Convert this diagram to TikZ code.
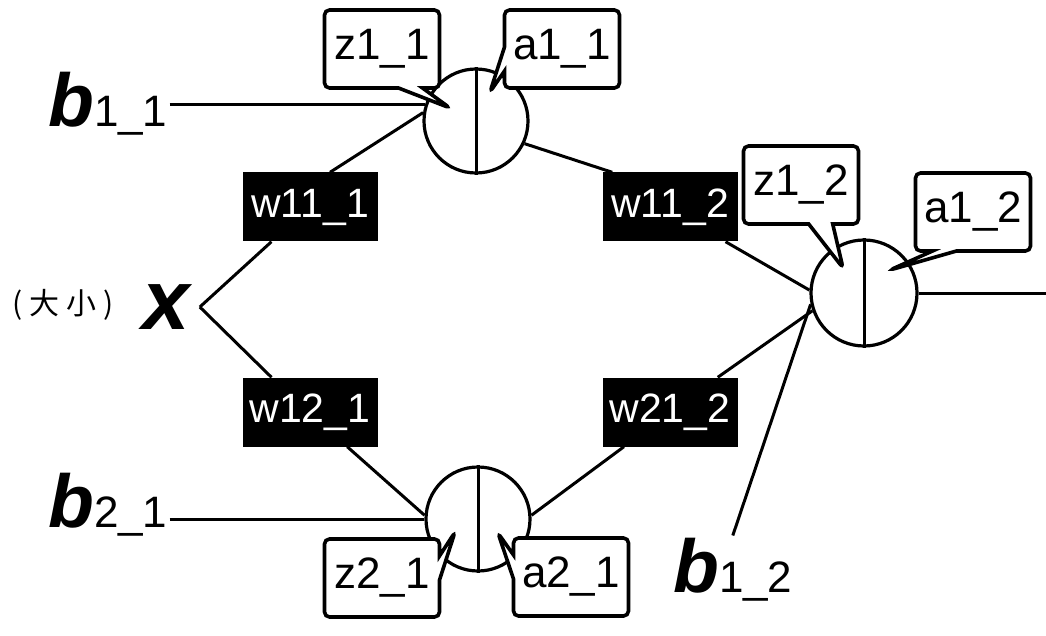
\documentclass[tikz,border=0pt]{standalone}
\usepackage{fontspec}
\setmainfont{Liberation Sans}
\newfontfamily\cjkfont{Noto Sans CJK SC}
\usetikzlibrary{shapes.callouts,calc}
\begin{document}
\begin{tikzpicture}[x=1pt,y=-1pt,
  neuron/.style={circle,draw,line width=3.2pt,minimum size=104pt,inner sep=0pt},
  wbox/.style={fill=black,text=white,minimum width=135pt,minimum height=69pt,inner sep=0pt,
    font=\fontsize{41}{44}\selectfont},
  tag/.style={rectangle callout,draw,fill=white,line width=3.6pt,rounded corners=5pt,
    minimum width=115pt,minimum height=78pt,inner sep=0pt,callout pointer width=24pt,
    font=\fontsize{44}{48}\selectfont},
  wire/.style={line width=3pt},
  bias/.style={inner sep=2pt,anchor=base west}
]
\useasboundingbox (0,0) rectangle (1046,636);

% neurons
\node[neuron] (n11) at (476,121) {};
\node[neuron] (n21) at (478,519) {};
\node[neuron,minimum size=106pt] (n12) at (864,293) {};
\foreach \n in {n11,n21,n12}
  \draw[line width=3pt] (\n.north) -- (\n.south);

% weights
\node[wbox] (w111) at (310,207) {w11\_1};
\node[wbox] (w121) at (310,412) {w12\_1};
\node[wbox] (w112) at (670,207) {w11\_2};
\node[wbox] (w212) at (670,412) {w21\_2};

% input
\node[inner sep=0pt,inner xsep=10pt,font=\fontsize{85}{90}\selectfont\bfseries\itshape] (xx) at (166,307) {x};
\node[font=\cjkfont\fontsize{30}{34}\selectfont] (size) at (63,305) {( 大 小 )};

% biases
\node[bias] (b11) at (46,127) {{\fontsize{75}{80}\selectfont\bfseries\itshape b}{\fontsize{44}{48}\selectfont 1\_1}};
\node[bias] (b21) at (46,527) {{\fontsize{75}{80}\selectfont\bfseries\itshape b}{\fontsize{44}{48}\selectfont 2\_1}};
\node[bias] (b12) at (671,592) {{\fontsize{75}{80}\selectfont\bfseries\itshape b}{\fontsize{44}{48}\selectfont 1\_2}};

\coordinate (out) at (1046,293);

% connections
\draw[wire] (b11.east |- n11.162) -- (n11.162);
\draw[wire] (b21.east |- n21.west) -- (n21.west);
\draw[wire] (b12.north) -- (n12.192);
\draw[wire] (xx.east) -- (w111.222);
\draw[wire] (w111.60) -- (n11.171);
\draw[wire] (xx.east) -- (w121.138);
\draw[wire] (w121.-43) -- (n21.176);
\draw[wire] (n11.-25) -- (w112.149);
\draw[wire] (w112.-32) -- (n12.177);
\draw[wire] (w212.36) -- (n12.199);
\draw[wire] (w212.217) -- (n21.4);
\draw[wire] (n12.east) -- (out);

% pointer tips of the value tags
\coordinate (tz11) at (450,108);
\coordinate (ta11) at (490,92);
\coordinate (tz12) at (843,268);
\coordinate (ta12) at (890,270);
\coordinate (tz21) at (455,532);
\coordinate (ta21) at (498,533);

% value tags
\node[tag,callout absolute pointer={(tz11)}] (z11) at (382,49) {z1\_1};
\node[tag,callout absolute pointer={(ta11)}] (a11) at (562,49) {a1\_1};
\node[tag,callout absolute pointer={(tz12)}] (z12) at (801,185) {z1\_2};
\node[tag,callout absolute pointer={(ta12)}] (a12) at (973,212) {a1\_2};
\node[tag,callout absolute pointer={(tz21)}] (z21) at (382,578) {z2\_1};
\node[tag,callout absolute pointer={(ta21)}] (a21) at (571,577) {a2\_1};
\end{tikzpicture}
\end{document}
